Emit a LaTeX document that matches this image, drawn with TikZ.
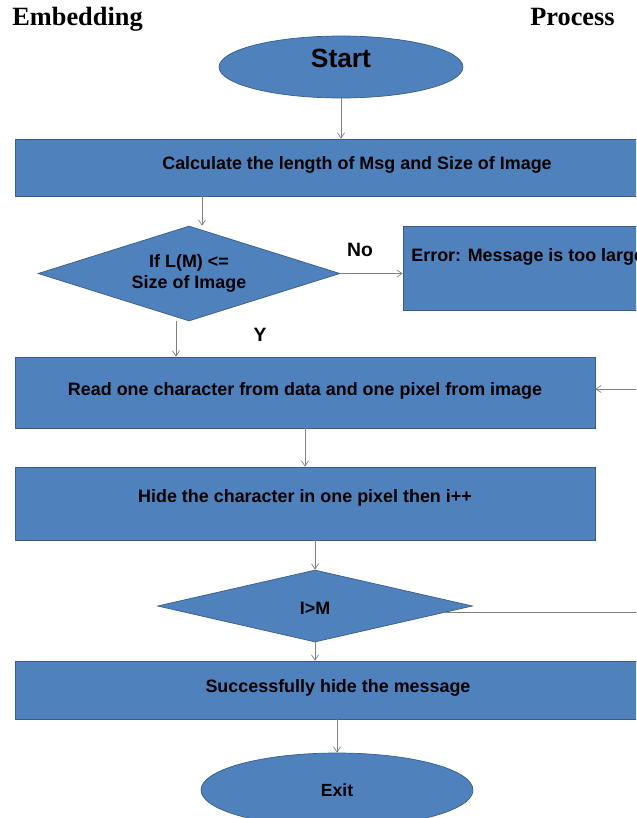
\documentclass[tikz,border=0pt]{standalone}
\usepackage{fontspec}
\setmainfont{Liberation Sans}
\newfontfamily\titlefont{Liberation Serif}
\usepackage{tikz}
\usetikzlibrary{shapes.geometric,arrows.meta}
\definecolor{boxblue}{RGB}{79,129,189}
\definecolor{boxedge}{RGB}{56,93,138}

\begin{document}
\begin{tikzpicture}[x=0.02cm,y=-0.02cm,
    block/.style={draw=boxedge, fill=boxblue, rectangle, inner sep=0pt,
      font=\bfseries\fontsize{10.2}{12}\selectfont},
    oval/.style={draw=boxedge, fill=boxblue, ellipse, inner sep=0pt},
    test/.style={draw=boxedge, fill=boxblue, diamond, inner sep=0pt, align=center,
      font=\bfseries\fontsize{10.2}{12}\selectfont},
    heading/.style={inner sep=0pt, font=\titlefont\bfseries\fontsize{15}{17}\selectfont},
    link/.style={thin, gray, -{Straight Barb[length=3pt,width=4pt]}}]
    \useasboundingbox (0,0) rectangle (636,818);
    \clip (0,0) rectangle (636,818);% page edge cuts the wide boxes
    \node [heading, anchor=base west] (left) at (12,26) {Embedding};
    \node [heading, anchor=base east] (right) at (615,26) {Process};
    \node [oval, minimum width=4.88cm, minimum height=1.24cm,
        font=\bfseries\fontsize{15}{17}\selectfont] (start) at (341,67) {\raisebox{10pt}{Start}};
    \node [block, minimum width=13.68cm, minimum height=1.14cm] (calc) at (357,167.5)
        {\raisebox{5pt}{Calculate the length of Msg and Size of Image}};
    \node [test, aspect=3.2, minimum width=6.04cm, minimum height=1.9cm] (check) at (189,273.5)
        {If L(M) \textless=\\Size of Image};
    \node [block, minimum width=5.94cm, minimum height=1.68cm] (err) at (551.5,268) {};
    \node [font=\bfseries\fontsize{10.2}{12}\selectfont, anchor=base west, inner sep=0pt]
        (errtxt) at (411,261) {Error: Message is too large};
    \node [block, minimum width=11.6cm, minimum height=1.42cm] (read) at (305,392.5)
        {\raisebox{4pt}{Read one character from data and one pixel from image}};
    \node [block, minimum width=11.6cm, minimum height=1.46cm] (hide) at (305,503.5)
        {\raisebox{9pt}{Hide the character in one pixel then i++}};
    \node [test, aspect=4.4, minimum width=6.3cm, minimum height=1.44cm] (loop) at (315,606)
        {\raisebox{-10pt}{I\textgreater M}};
    \node [block, minimum width=12.92cm, minimum height=1.16cm] (done) at (338,690)
        {\raisebox{4pt}{Successfully hide the message}};
    \node [oval, minimum width=5.44cm, minimum height=1.48cm,
        font=\bfseries\fontsize{10}{12}\selectfont] (exit) at (337,790) {\raisebox{-4pt}{Exit}};
    \coordinate (back) at (640,389);% loop comes back from the right
    \coordinate (out) at (640,613);
    % connectors
    \draw [link] (start.south) -- (start.south |- calc.north);
    \draw [link] ([xshift=0.26cm]check.north |- calc.south) -- ([xshift=0.26cm]check.north);
    \draw [link] (check.east) -- (check.east -| err.west);
    \node [font=\bfseries\fontsize{11}{13}\selectfont] (no) at (360,250) {No};
    \draw [link] ([xshift=-0.26cm]check.south) -- ([xshift=-0.26cm]check.south |- read.north);
    \node [font=\bfseries\fontsize{11}{13}\selectfont] (yes) at (260,335) {Y};
    \draw [link] (back) -- (back -| read.east);
    \draw [link] (read.south) -- (read.south |- hide.north);
    \draw [link] (hide.south -| loop.north) -- (loop.north);
    \draw [thin, gray] (loop.-3) -- (loop.-3 -| out);
    \draw [link] (loop.south) -- (loop.south |- done.north);
    \draw [link] (done.south -| exit.north) -- (exit.north);
\end{tikzpicture}
\end{document}
